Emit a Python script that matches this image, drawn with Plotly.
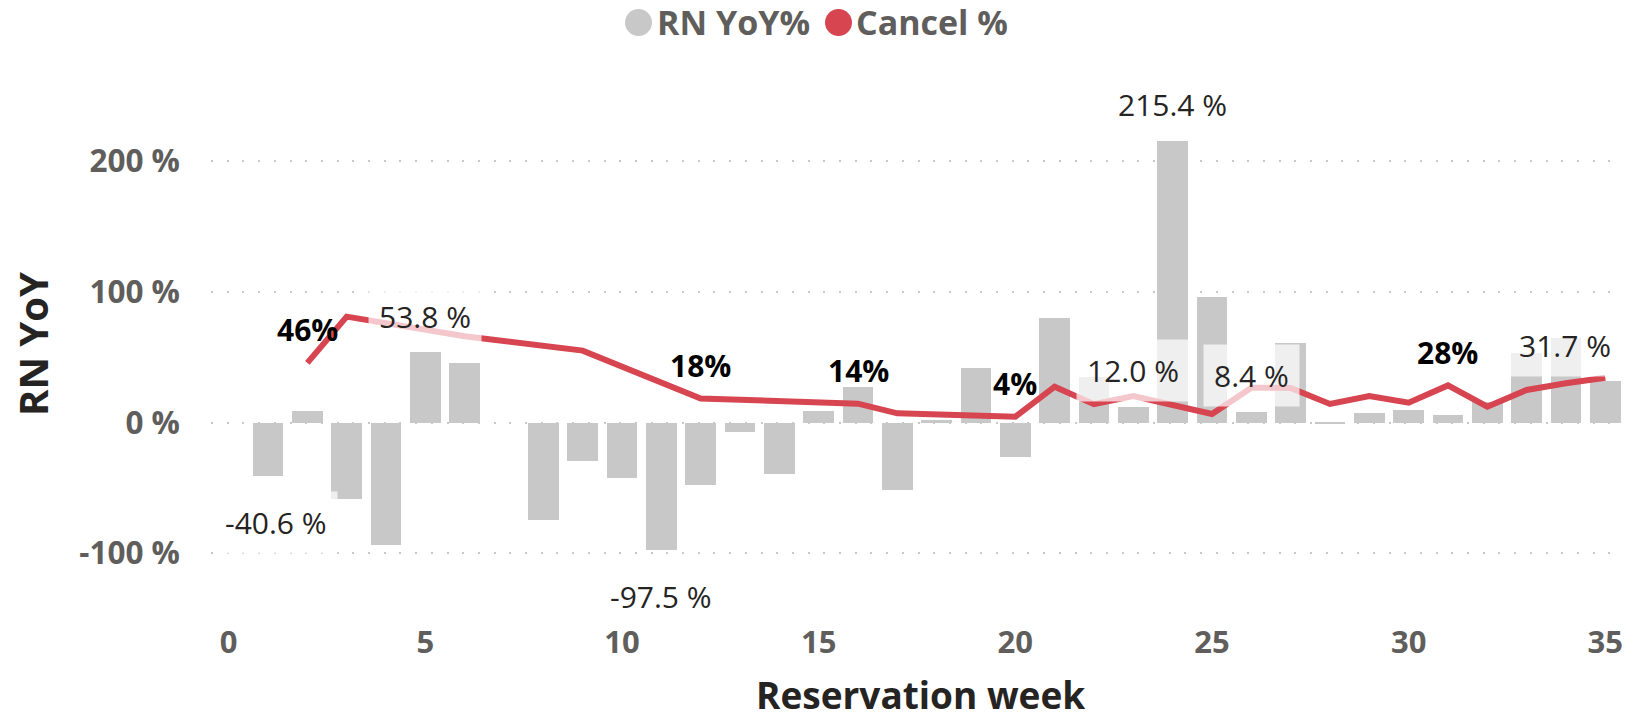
import plotly.graph_objects as go

# ---------------- data ----------------
weeks = list(range(1, 36))
rn_yoy = [-40.6, 8.8, -58.5, -93.7, 53.8, 45.8, None, -74.6, -29.2, -42.7,
          -97.5, -47.8, -7.0, -39.4, 9.1, 27.4, -51.6, 2.0, 41.9, -26.2,
          80.2, 35.0, 12.0, 215.4, 95.8, 8.4, 60.6, -1.5, 7.5, 9.6,
          5.7, 16.0, 53.0, 65.0, 31.7]

cancel_weeks = [2, 3, 6, 9, 12, 16, 17, 20, 21, 22, 23, 24, 25, 26, 27, 28,
                29, 30, 31, 32, 33, 34, 35]
cancel_pct = [45.6, 81.0, 66.0, 55.0, 18.4, 14.4, 7.0, 4.4, 27.4, 14.0, 20.3,
              13.4, 6.5, 26.6, 26.4, 14.2, 20.3, 15.2, 28.4, 12.1, 24.9, 30.0, 34.3]

bar_label_weeks = [1, 5, 11, 23, 24, 26, 35]
line_label_weeks = [2, 12, 16, 20, 31]

y_tickvals = [-100, 0, 100, 200]
y_ticktext = ["-100 %", "0 %", "100 %", "200 %"]
x_tickvals = [0, 5, 10, 15, 20, 25, 30, 35]
x_ticktext = ["0", "5", "10", "15", "20", "25", "30", "35"]

# ---------------- layout geometry ----------------
W, H = 1634, 723
L, R, T, B = 211, 11, 96, 108
PW, PH = W - L - R, H - T - B
ZERO_PX = 422.5
PX_PER = 1.307
YMAX = (ZERO_PX - T) / PX_PER
YMIN = -(H - B - ZERO_PX) / PX_PER

def xp(px):
    return (px - L) / PW

def yp(py):
    return (H - B - py) / PH

FONT = "Segoe UI, Open Sans, sans-serif"
GREY_BAR = "#C8C8C8"
RED = "#D64550"
TICK_COL = "#605E5C"
TITLE_COL = "#252423"

fig = go.Figure()
fig.add_trace(go.Bar(
    x=weeks, y=rn_yoy, width=0.78, name="RN YoY%",
    marker=dict(color=GREY_BAR, line=dict(width=0)),
    hoverinfo="skip", showlegend=False,
))
fig.add_trace(go.Scatter(
    x=cancel_weeks, y=cancel_pct, mode="lines", name="Cancel %",
    line=dict(color=RED, width=6),
    hoverinfo="skip", showlegend=False,
))

annotations = []
bar_map = dict(zip(weeks, rn_yoy))
edge_shift = {1: 8, 35: -40}
for w in bar_label_weeks:
    v = bar_map[w]
    annotations.append(dict(
        x=w, y=v, xref="x", yref="y", text=f"{v:.1f} %", showarrow=False,
        xshift=edge_shift.get(w, 0), yshift=36 if v >= 0 else -47,
        font=dict(family=FONT, size=30, color=TITLE_COL),
        bgcolor="rgba(255,255,255,0.7)", borderpad=10,
    ))
line_map = dict(zip(cancel_weeks, cancel_pct))
for w in line_label_weeks:
    v = line_map[w]
    annotations.append(dict(
        x=w, y=v, xref="x", yref="y", text=f"{v:.0f}%", showarrow=False,
        yshift=33,
        font=dict(family=FONT, size=30, color="#000000", weight="bold"),
    ))

# axis titles
annotations.append(dict(
    x=xp(32), y=yp(344), xref="paper", yref="paper", text="RN YoY",
    textangle=-90, showarrow=False, xanchor="center", yanchor="middle",
    font=dict(family=FONT, size=40, color=TITLE_COL, weight="bold"),
))
annotations.append(dict(
    x=xp(920), y=yp(722), xref="paper", yref="paper", text="Reservation week",
    showarrow=False, xanchor="center", yanchor="bottom",
    font=dict(family=FONT, size=37, color=TITLE_COL, weight="bold"),
))

# legend (manual)
legend_items = [("RN YoY%", GREY_BAR, 638.5, 655), ("Cancel %", RED, 838.5, 854)]
shapes = []
for label, col, cx, tx in legend_items:
    shapes.append(dict(
        type="circle", xref="paper", yref="paper",
        xsizemode="pixel", ysizemode="pixel",
        xanchor=xp(cx), yanchor=yp(22.5),
        x0=-13.5, x1=13.5, y0=-13.5, y1=13.5,
        fillcolor=col, line=dict(width=0),
    ))
    annotations.append(dict(
        x=xp(tx), y=yp(22.5), xref="paper", yref="paper", text=label,
        showarrow=False, xanchor="left", yanchor="middle",
        font=dict(family=FONT, size=34, color=TICK_COL, weight="bold"),
    ))

fig.update_layout(
    width=W, height=H,
    margin=dict(l=L, r=R, t=T, b=B, autoexpand=False),
    plot_bgcolor="white", paper_bgcolor="white",
    showlegend=False, hovermode=False, bargap=0,
    annotations=annotations, shapes=shapes,
)
fig.update_xaxes(
    range=[-0.45, 35.45], tickvals=x_tickvals, ticktext=x_ticktext,
    showgrid=False, zeroline=False, showline=False, ticks="",
    tickfont=dict(family=FONT, size=31, color=TICK_COL, weight="bold"),
    ticklabelstandoff=6,
)
fig.update_yaxes(
    range=[YMIN, YMAX], tickvals=y_tickvals, ticktext=y_ticktext,
    showgrid=True, gridcolor="#C8C8C8", gridwidth=2, griddash="2px,13.7px",
    zeroline=False, showline=False, ticks="",
    tickfont=dict(family=FONT, size=31.5, color=TICK_COL, weight="bold"),
    ticklabelstandoff=30,
)

fig.write_html(
    "out.html",
    config={"displayModeBar": False},
    post_script="document.body.style.margin='0';document.body.style.overflow='hidden';",
)
